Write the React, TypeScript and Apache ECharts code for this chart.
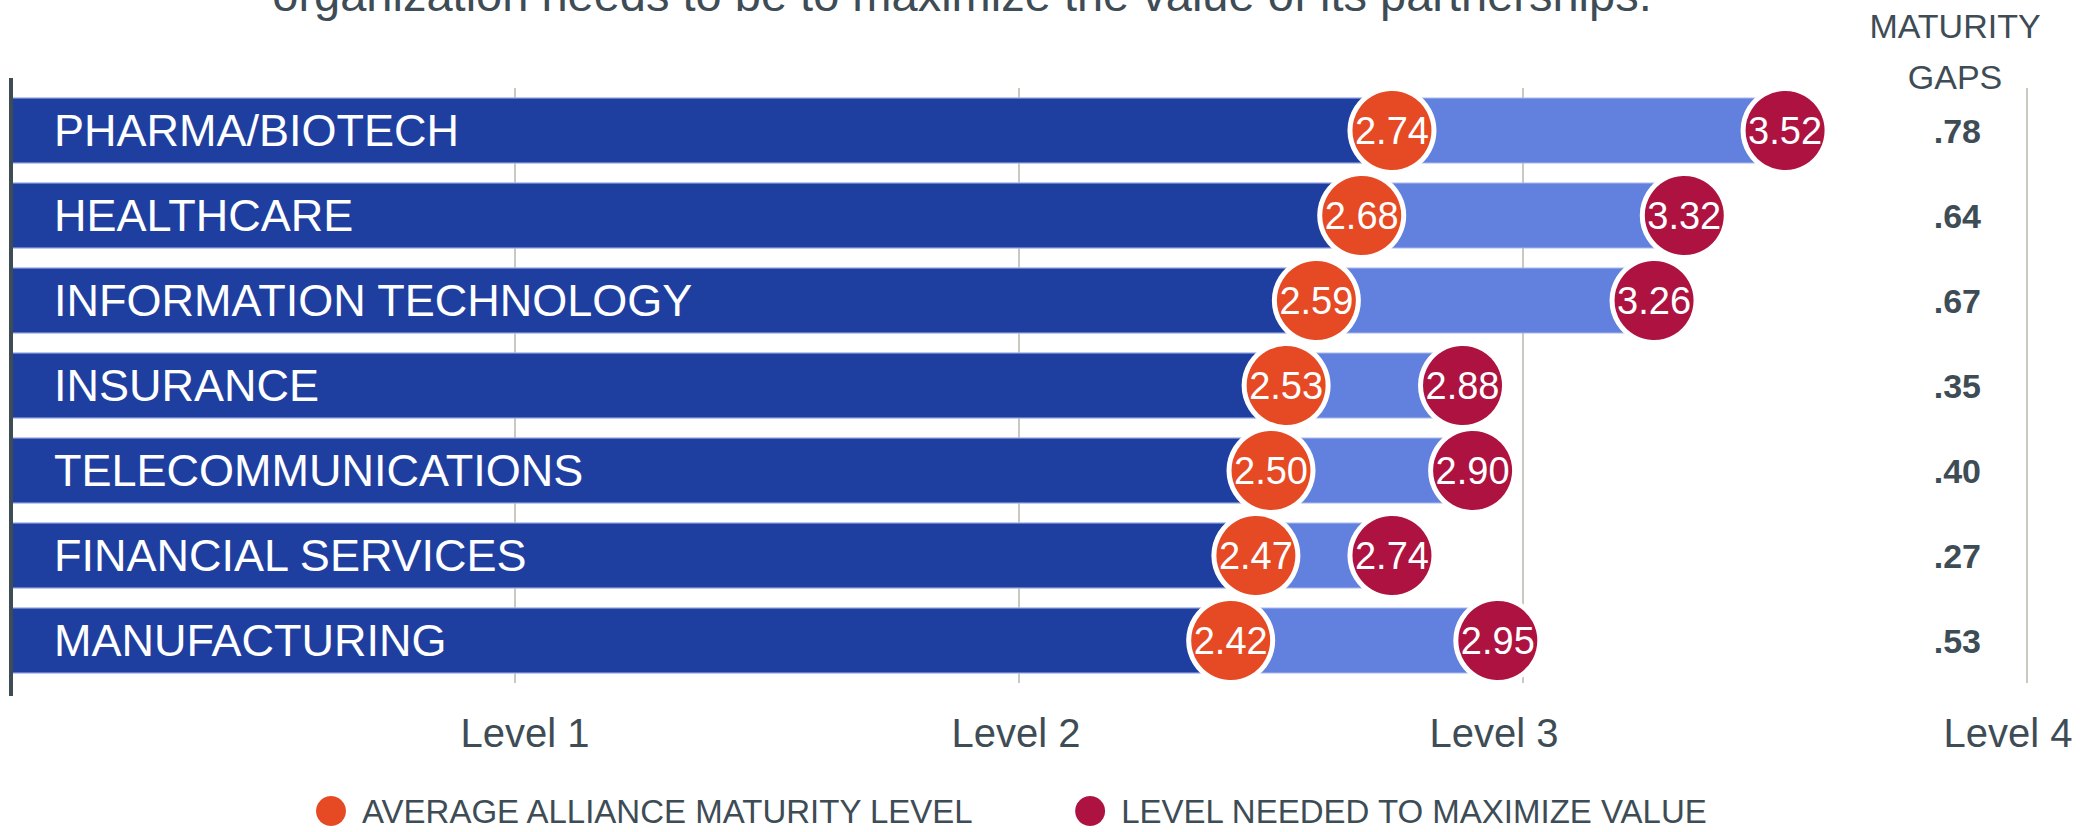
import React, { useEffect, useRef } from "react";
import * as echarts from "echarts";

const categories = [
  "PHARMA/BIOTECH",
  "HEALTHCARE",
  "INFORMATION TECHNOLOGY",
  "INSURANCE",
  "TELECOMMUNICATIONS",
  "FINANCIAL SERVICES",
  "MANUFACTURING",
];
const averageLevel = [2.74, 2.68, 2.59, 2.53, 2.5, 2.47, 2.42];
const neededLevel = [3.52, 3.32, 3.26, 2.88, 2.9, 2.74, 2.95];
const maturityGaps = [".78", ".64", ".67", ".35", ".40", ".27", ".53"];
const levelLabels = ["", "Level 1", "Level 2", "Level 3", "Level 4"];
const titleText = "organization needs to be to maximize the value of its partnerships.";
const gapHeader = "MATURITY\nGAPS";
const seriesNames = ["AVERAGE ALLIANCE MATURITY LEVEL", "LEVEL NEEDED TO MAXIMIZE VALUE"];

const FONT = "'Liberation Sans', Arial, sans-serif";
const GRAY = "#3e4c55";
const DARK_BLUE = "#1f3fa0";
const LIGHT_BLUE = "#6280de";
const ORANGE = "#e54a24";
const CRIMSON = "#ad1240";

export default function App() {
  const ref = useRef<HTMLDivElement>(null);
  useEffect(() => {
    document.body.style.margin = "0";
    const chart = echarts.init(ref.current!, undefined, { renderer: "svg" });
    const circleLabel = {
      show: true,
      position: "inside",
      color: "#ffffff",
      fontSize: 38,
      fontFamily: FONT,
      formatter: (p: any) => Number(p.value[0]).toFixed(2),
    };
    chart.setOption({
      animation: false,
      textStyle: { fontFamily: FONT },
      grid: { left: 11, right: 53, top: 88, bottom: 149 },
      xAxis: {
        type: "value",
        min: 0,
        max: 4,
        interval: 1,
        axisLine: { show: false },
        axisTick: { show: false },
        splitLine: { show: true, lineStyle: { color: "#c9c9c0", width: 2 } },
        axisLabel: {
          color: GRAY,
          fontSize: 40,
          fontFamily: FONT,
          margin: 30,
          formatter: (v: number) => {
            const t = levelLabels[Math.round(v)] || "";
            return t ? `{l${Math.round(v)}|${t}}` : "";
          },
          rich: {
            l1: { color: GRAY, fontSize: 40, fontFamily: FONT, padding: [0, 0, 0, 20] },
            l2: { color: GRAY, fontSize: 40, fontFamily: FONT, padding: [0, 6, 0, 0] },
            l3: { color: GRAY, fontSize: 40, fontFamily: FONT, padding: [0, 58, 0, 0] },
            l4: { color: GRAY, fontSize: 40, fontFamily: FONT, padding: [0, 38, 0, 0] },
          },
        },
      },
      yAxis: [
        {
          type: "category",
          data: categories,
          inverse: true,
          z: 10,
          axisLine: { show: true, lineStyle: { color: GRAY, width: 4 } },
          axisTick: { show: false },
          splitLine: { show: false },
          axisLabel: {
            inside: true,
            margin: 43,
            color: "#ffffff",
            fontSize: 45,
            fontFamily: FONT,
          },
        },
        {
          type: "category",
          data: maturityGaps,
          inverse: true,
          position: "right",
          z: 10,
          axisLine: { show: false },
          axisTick: { show: false },
          splitLine: { show: false },
          axisLabel: {
            inside: true,
            margin: 46,
            color: GRAY,
            fontSize: 34,
            fontWeight: "bold",
            fontFamily: FONT,
          },
        },
      ],
      legend: {
        left: 311,
        top: 789,
        itemWidth: 30,
        itemHeight: 30,
        itemGap: 100,
        icon: "circle",
        data: seriesNames,
        itemStyle: { borderWidth: 0 },
        textStyle: {
          color: GRAY,
          fontSize: 33,
          lineHeight: 34,
          fontFamily: FONT,
          padding: [0, 0, 0, 11],
        },
      },
      graphic: [
        {
          type: "line",
          shape: { x1: 11, y1: 78, x2: 11, y2: 696 },
          style: { stroke: GRAY, lineWidth: 4 },
          z: 20,
        },
        {
          type: "text",
          x: 962,
          y: -6,
          style: {
            text: titleText,
            fill: GRAY,
            font: `47px ${FONT}`,
            textAlign: "center",
            textVerticalAlign: "middle",
          },
        },
        {
          type: "text",
          x: 1955,
          y: 51,
          style: {
            text: gapHeader,
            fill: GRAY,
            font: `34px ${FONT}`,
            lineHeight: 51,
            textAlign: "center",
            textVerticalAlign: "middle",
          },
        },
      ],
      series: [
        {
          name: "needed-bar",
          type: "bar",
          data: neededLevel,
          barWidth: 66,
          barGap: "-100%",
          z: 2,
          itemStyle: { color: LIGHT_BLUE, borderColor: "#a9b7ea", borderWidth: 1 },
          silent: true,
        },
        {
          name: "average-bar",
          type: "bar",
          data: averageLevel,
          barWidth: 66,
          barGap: "-100%",
          z: 2,
          itemStyle: { color: DARK_BLUE, borderColor: "#a9b7ea", borderWidth: 1 },
          silent: true,
        },
        {
          name: seriesNames[0],
          type: "scatter",
          data: averageLevel.map((v, i) => [v, categories[i]]),
          symbol: "circle",
          symbolSize: 84,
          z: 4,
          itemStyle: { color: ORANGE, borderColor: "#ffffff", borderWidth: 5, opacity: 1 },
          label: circleLabel,
        },
        {
          name: seriesNames[1],
          type: "scatter",
          data: neededLevel.map((v, i) => [v, categories[i]]),
          symbol: "circle",
          symbolSize: 84,
          z: 4,
          itemStyle: { color: CRIMSON, borderColor: "#ffffff", borderWidth: 5, opacity: 1 },
          label: circleLabel,
        },
      ],
    });
    return () => chart.dispose();
  }, []);
  return <div ref={ref} style={{ width: 2080, height: 832 }} />;
}
